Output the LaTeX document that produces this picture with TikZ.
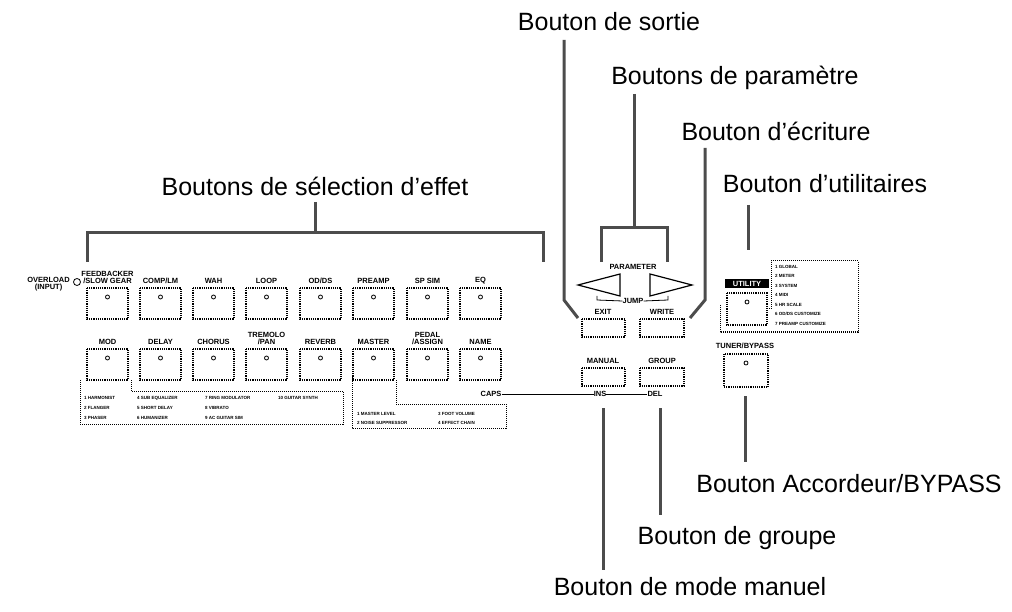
\documentclass[tikz,border=0pt]{standalone}
\usepackage{fontspec}
\setmainfont{Liberation Sans}
\begin{document}
\begin{tikzpicture}[x=1pt,y=-1pt,
  title/.style={font=\fontsize{25}{27}\selectfont,inner sep=0},
  lab/.style={font=\bfseries\fontsize{7.5}{7.5}\selectfont,inner sep=0,align=center},
  tiny/.style={font=\bfseries\fontsize{4.5}{5}\selectfont,inner sep=0,anchor=west},
  btn/.style={draw,line width=1.2pt,densely dotted},
  led/.style={draw,line width=0.8pt,circle,minimum size=4pt,inner sep=0},
  lead/.style={line width=3pt,draw=black!70}]
\useasboundingbox (0,0) rectangle (1012,612);
% effect buttons
\foreach \n/\x/\t/\r in {fb/87/{FEEDBACKER\\/SLOW GEAR}/0,comp/140/{COMP/LM}/0,wah/193/WAH/0,loop/246/LOOP/0,od/300/{OD/DS}/0,pre/353/PREAMP/0,sp/407/SP SIM/0,eq/460/EQ/0,
  mod/87/MOD/1,dly/140/DELAY/1,cho/193/CHORUS/1,trm/246/{TREMOLO\\/PAN}/1,rev/300/REVERB/1,mst/353/MASTER/1,pdl/407/{PEDAL\\/ASSIGN}/1,nam/460/NAME/1}{
  \pgfmathsetmacro\yy{288+61*\r}
  \draw[btn] (\x,\yy) rectangle +(41,31);
  \node[led] (\n) at (\x+20.5,\yy+9) {};
  \node[lab,anchor=south] at (\x+20.5,\yy-4) {\t};
}
\node[lab,anchor=east] (ovl) at (70,284) {OVERLOAD\\(INPUT)};
\node[led,minimum size=7pt] (ovc) at (77,282) {};
% selection bracket
\node[title] (t1) at (315,186) {Boutons de sélection d'effet};
\draw[lead] (315,202) -- (315,233);
\draw[lead] (87,262) -- (87,233) -- (543,233) -- (543,262);
% MOD legend
\draw[densely dotted,line width=1pt] (80,380) -- (80,424) -- (343,424) -- (343,391) -- (131,391) -- (131,380);
\node[tiny] at (84,398) {1 HARMONIST}; \node[tiny] at (84,408) {2 FLANGER}; \node[tiny] at (84,418) {3 PHASER};
\node[tiny] at (137,398) {4 SUB EQUALIZER}; \node[tiny] at (137,408) {5 SHORT DELAY}; \node[tiny] at (137,418) {6 HUMANIZER};
\node[tiny] at (205,398) {7 RING MODULATOR}; \node[tiny] at (205,408) {8 VIBRATO}; \node[tiny] at (205,418) {9 AC GUITAR SIM};
\node[tiny] at (278,398) {10 GUITAR SYNTH};
% MASTER legend
\draw[densely dotted,line width=1pt] (352,373) -- (352,428) -- (506,428) -- (506,404) -- (396,404) -- (396,380);
\node[tiny] at (357,414) {1 MASTER LEVEL}; \node[tiny] at (357,423) {2 NOISE SUPPRESSOR};
\node[tiny] at (438,414) {3 FOOT VOLUME}; \node[tiny] at (438,423) {4 EFFECT CHAIN};
% CAPS INS DEL
\node[lab] (caps) at (491,394) {CAPS};
\node[lab] (ins) at (600,394) {INS};
\node[lab] (del) at (655,394) {DEL};
\draw[line width=0.8pt] (caps.east) -- (ins.west); \draw[line width=0.8pt] (ins.east) -- (del.west);
% parameter
\node[lab] (par) at (633,267) {PARAMETER};
\draw[line width=1.2pt] (620,274) -- (578,285) -- (620,296) -- cycle;
\draw[line width=1.2pt] (650,274) -- (692,285) -- (650,296) -- cycle;
\node[lab] (jmp) at (633,301) {JUMP};
\draw[line width=0.8pt] (597,296) -- (597,300) -- (jmp.west);
\draw[line width=0.8pt] (668,296) -- (668,300) -- (jmp.east);
\node[lab] (exl) at (603,312) {EXIT};
\node[lab] (wrl) at (662,312) {WRITE};
\draw[btn] (582,319) rectangle (625,337);
\draw[btn] (640,319) rectangle (684,337);
\node[lab] (mnl) at (603,361) {MANUAL};
\node[lab] (grl) at (662,361) {GROUP};
\draw[btn] (582,368) rectangle (625,386);
\draw[btn] (640,368) rectangle (684,386);
% leaders
\node[title] (tsort) at (609,22) {Bouton de sortie};
\draw[lead] (564,40) -- (564,300) -- (578,318);
\node[title] (tpar) at (735,78) {Boutons de paramètre};
\draw[lead] (634,94) -- (634,228);
\draw[lead] (601,262) -- (601,228) -- (667,228) -- (667,262);
\node[title] (tecr) at (776,131) {Bouton d'écriture};
\draw[lead] (705,148) -- (705,300) -- (690,318);
\node[title] (tutl) at (825,184) {Bouton d'utilitaires};
\draw[lead] (748,205) -- (748,250);
% utility
\node[fill=black,text=white,lab,minimum width=44pt,minimum height=9pt] (utl) at (747,284) {UTILITY};
\draw[densely dotted,line width=1pt] (720,305) -- (720,332) -- (858,332) -- (858,261) -- (771,261) -- (771,309) -- (767,309);
\draw[btn] (727,293) rectangle (767,325);
\node[led] (uled) at (747,302) {};
\foreach \i/\s in {1/1 GLOBAL,2/2 METER,3/3 SYSTEM,4/4 MIDI,5/5 HR SCALE,6/{6 OD/DS CUSTOMIZE},7/7 PREAMP CUSTOMIZE}
  \node[tiny] at (775,257+9.5*\i) {\s};
\node[lab] (tunl) at (745,346) {TUNER/BYPASS};
\draw[btn] (724,354) rectangle (768,387);
\node[led] (tled) at (746,363) {};
\draw[lead] (745,396) -- (745,462);
\node[title] (ttun) at (849,484) {Bouton Accordeur/BYPASS};
\draw[lead] (660,408) -- (660,515);
\node[title] (tgrp) at (737,538) {Bouton de groupe};
\draw[lead] (603,408) -- (603,570);
\node[title] (tman) at (690,587) {Bouton de mode manuel};
\end{tikzpicture}
\end{document}
